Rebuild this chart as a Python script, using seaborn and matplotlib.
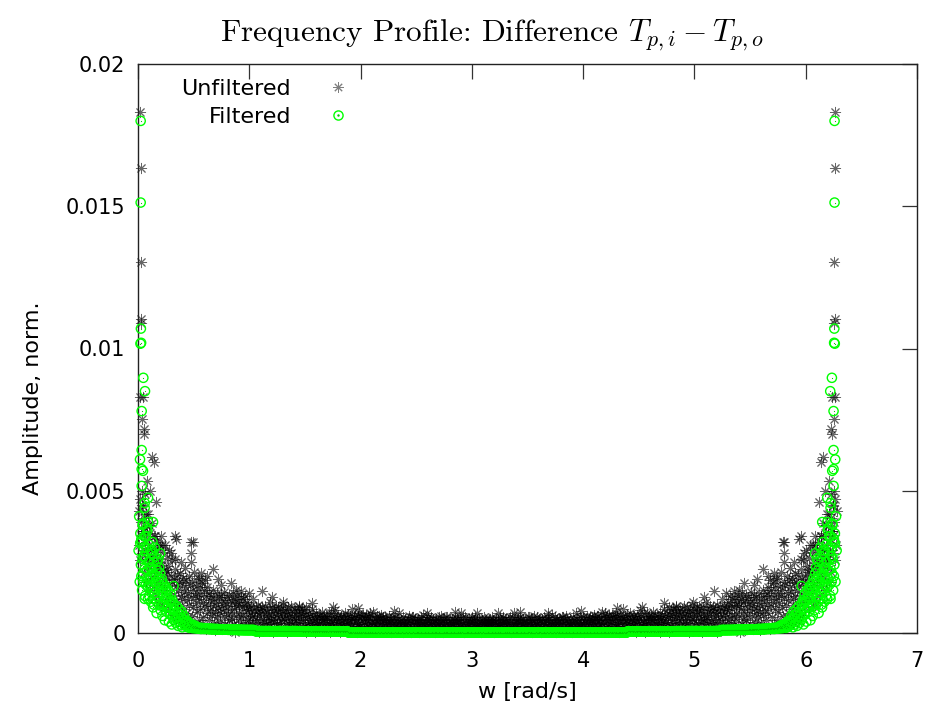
import numpy as np
import pandas as pd
import matplotlib
matplotlib.use("Agg")
import matplotlib.pyplot as plt
import matplotlib.ticker as ticker
from matplotlib.lines import Line2D
import seaborn as sns

# half spectrum sampled on bins w_k = k*pi/N_HALF (k = 1..N_HALF)
# amplitudes in units of 1e-5 (normalised); spectrum is symmetric about pi
N_HALF = 600
AMP_UNIT = 1e-5

unf_bins = [
    430, 310, 470, 255, 390, 345, 280, 445, 360, 215,
    405, 290, 330, 180, 375, 260, 420, 235, 310, 150,
    350, 270, 195, 385, 240, 300, 165, 340, 210, 275,
    130, 320, 245, 185, 295, 110, 260, 225, 340, 170,
    240, 95, 285, 205, 150, 310, 185, 120, 265, 215,
    80, 235, 170, 290, 140, 200, 105, 255, 180, 65,
    190, 135, 225, 75, 165, 110, 205, 50, 150, 180,
    95, 210, 130, 40, 175, 120, 85, 195, 145, 25,
    160, 70, 185, 115, 140, 55, 200, 100, 170, 35,
    125, 180, 60, 150, 90, 215, 130, 20, 165, 105,
    75, 140, 195, 45, 120, 160, 85, 135, 30, 175,
    110, 55, 150, 95, 185, 15, 130, 70, 160, 100,
    140, 45, 115, 80, 20, 130, 65, 150, 95, 35,
    120, 75, 10, 105, 140, 55, 90, 25, 125, 70,
    40, 135, 85, 115, 15, 100, 60, 145, 30, 110,
    80, 20, 125, 65, 95, 135, 45, 10, 115, 75,
    105, 50, 140, 30, 85, 120, 5, 95, 60, 130,
    25, 110, 70, 100, 40, 125, 55, 90, 15, 120,
    65, 100, 35, 130, 80, 20, 110, 45, 95, 60,
    85, 30, 70, 95, 15, 60, 120, 40, 80, 10,
    55, 90, 25, 75, 45, 100, 5, 65, 85, 35,
    70, 20, 90, 50, 10, 80, 40, 95, 30, 60,
    15, 75, 55, 85, 35, 110, 25, 65, 45, 90,
    50, 5, 80, 40, 70, 20, 95, 55, 30, 75,
    90, 35, 60, 15, 85, 45, 70, 10, 100, 50,
    25, 80, 45, 65, 5, 75, 35, 90, 55, 20,
    70, 40, 95, 30, 60, 15, 85, 50, 25, 80,
    45, 65, 10, 75, 35, 90, 55, 20, 70, 40,
    85, 15, 60, 45, 80, 25, 65, 5, 90, 35,
    55, 20, 70, 40, 10, 60, 30, 85, 45, 15,
    65, 35, 50, 5, 70, 25, 55, 40, 15, 60,
    30, 65, 20, 50, 40, 75, 10, 45, 60, 25,
    50, 10, 60, 35, 55, 20, 70, 30, 45, 5,
    40, 70, 25, 45, 15, 60, 35, 80, 20, 50,
    15, 55, 40, 65, 30, 5, 50, 25, 60, 35,
    60, 25, 50, 10, 70, 40, 20, 55, 35, 65,
    35, 45, 15, 60, 25, 50, 85, 30, 10, 55,
    50, 20, 65, 40, 5, 45, 30, 60, 20, 70,
    25, 60, 35, 55, 15, 65, 40, 10, 50, 30,
    65, 10, 45, 30, 60, 20, 55, 35, 70, 15,
    40, 55, 25, 75, 35, 50, 10, 45, 30, 60,
    20, 45, 60, 15, 50, 30, 65, 25, 40, 55,
    45, 15, 35, 55, 25, 50, 10, 40, 30, 60,
    20, 50, 40, 5, 45, 30, 55, 15, 35, 25,
    55, 30, 10, 45, 20, 50, 35, 70, 25, 40,
    15, 45, 35, 55, 5, 40, 25, 50, 30, 10,
    40, 20, 50, 30, 60, 15, 45, 35, 5, 55,
    30, 55, 15, 40, 25, 50, 10, 45, 35, 20,
    50, 5, 45, 25, 55, 35, 20, 40, 65, 30,
    10, 40, 30, 50, 20, 45, 55, 15, 35, 25,
    45, 25, 55, 10, 40, 30, 50, 20, 5, 45,
    35, 50, 20, 45, 30, 55, 15, 40, 25, 60,
    20, 35, 45, 5, 50, 25, 40, 30, 55, 15,
    55, 15, 30, 40, 20, 45, 35, 10, 50, 25,
    30, 45, 10, 55, 35, 20, 50, 40, 15, 45,
    40, 25, 50, 30, 70, 15, 35, 55, 25, 5,
    15, 55, 35, 20, 45, 30, 10, 50, 40, 30,
    50, 20, 40, 55, 10, 35, 45, 25, 55, 20,
    25, 45, 30, 15, 50, 40, 20, 35, 5, 45,
    35, 10, 55, 40, 25, 50, 30, 45, 20, 40,
]

filt_bins = [
    290, 410, 180, 350, 240, 320, 150, 380, 210, 270,
    340, 130, 260, 300, 190, 360, 120, 250, 310, 170,
    230, 110, 280, 160, 200, 90, 250, 140, 300, 120,
    180, 70, 220, 130, 260, 100, 170, 210, 80, 150,
    190, 60, 140, 100, 170, 45, 120, 160, 75, 130,
    90, 150, 40, 110, 65, 135, 85, 30, 115, 55,
    100, 45, 80, 60, 35, 95, 50, 70, 25, 85,
    40, 65, 30, 55, 75, 20, 50, 35, 60, 28,
    45, 30, 38, 22, 42, 26, 35, 18, 32, 24,
    28, 20, 30, 17, 25, 22, 19, 26, 16, 21,
    20, 17, 19, 15, 18, 16, 17, 14, 18, 15,
    16, 17, 14, 16, 15, 17, 14, 15, 16, 14,
    15, 14, 15, 13, 14, 15, 14, 13, 14, 14,
    13, 14, 13, 14, 13, 12, 14, 13, 13, 12,
    13, 12, 13, 13, 12, 13, 12, 12, 13, 12,
    12, 13, 12, 12, 11, 12, 12, 11, 12, 12,
    11, 12, 11, 12, 11, 11, 12, 11, 11, 12,
    11, 11, 10, 11, 11, 10, 11, 11, 10, 11,
    10, 11, 10, 10, 11, 10, 10, 11, 10, 10,
    10, 10, 11, 10, 10, 10, 11, 10, 10, 10,
    7, 6, 7, 6, 6, 7, 6, 6, 7, 6,
    6, 6, 7, 6, 6, 6, 7, 6, 6, 6,
    6, 7, 6, 6, 6, 6, 7, 6, 6, 6,
    6, 6, 6, 7, 6, 6, 6, 6, 7, 6,
    6, 6, 7, 6, 6, 6, 6, 6, 7, 6,
    6, 7, 6, 6, 6, 7, 6, 6, 6, 6,
    6, 6, 6, 7, 6, 6, 6, 7, 6, 6,
    6, 6, 7, 6, 6, 6, 6, 6, 6, 6,
    6, 6, 5, 6, 6, 6, 5, 6, 6, 6,
    6, 5, 6, 6, 6, 6, 5, 6, 6, 5,
    6, 6, 6, 5, 6, 6, 6, 5, 6, 6,
    5, 6, 6, 6, 5, 6, 6, 6, 6, 5,
    6, 6, 5, 6, 6, 5, 6, 6, 6, 6,
    6, 5, 6, 6, 6, 5, 6, 6, 5, 6,
    6, 6, 6, 5, 6, 6, 5, 6, 6, 6,
    5, 6, 6, 6, 6, 5, 6, 6, 6, 5,
    2, 1, 2, 1, 1, 2, 1, 1, 2, 1,
    1, 2, 1, 1, 2, 1, 1, 1, 2, 1,
    1, 1, 2, 1, 1, 2, 1, 1, 1, 2,
    1, 1, 1, 2, 1, 1, 1, 2, 1, 1,
    2, 1, 1, 1, 1, 2, 1, 1, 1, 1,
    1, 2, 1, 1, 1, 1, 2, 1, 1, 1,
    1, 1, 1, 2, 1, 1, 1, 1, 2, 1,
    1, 1, 1, 1, 2, 1, 1, 1, 1, 1,
    2, 1, 1, 1, 1, 1, 2, 1, 1, 1,
    1, 1, 2, 1, 1, 1, 1, 1, 1, 2,
    1, 1, 1, 1, 2, 1, 1, 1, 1, 1,
    1, 2, 1, 1, 1, 1, 1, 2, 1, 1,
    2, 1, 1, 1, 1, 2, 1, 1, 1, 1,
    1, 1, 2, 1, 1, 1, 1, 2, 1, 1,
    1, 1, 1, 2, 1, 1, 1, 1, 1, 2,
    1, 2, 1, 1, 1, 1, 2, 1, 1, 1,
    1, 1, 1, 1, 2, 1, 1, 1, 2, 1,
    2, 1, 1, 1, 1, 1, 1, 2, 1, 1,
    1, 1, 2, 1, 1, 1, 1, 1, 2, 1,
    1, 2, 1, 1, 1, 2, 1, 1, 1, 1,
    1, 1, 1, 2, 1, 1, 2, 1, 1, 1,
    2, 1, 1, 1, 1, 1, 1, 1, 2, 1,
    1, 1, 2, 1, 1, 1, 2, 1, 1, 1,
    1, 2, 1, 1, 1, 1, 1, 1, 1, 2,
]

# low-frequency peaks and stray points (w [rad/s], amplitude 1e-5)
unf_extra = [
    (0.022, 1830), (0.024, 1635), (0.025, 1304), (0.024, 1104), (0.027, 1090),
    (0.018, 830), (0.045, 830), (0.033, 752), (0.057, 717), (0.050, 700),
    (0.125, 620), (0.145, 600), (0.078, 534), (0.060, 490), (0.032, 500),
    (0.040, 450), (0.070, 420), (0.100, 380), (0.050, 360), (0.150, 340),
    (0.160, 460), (0.110, 500), (0.200, 310), (0.120, 290), (0.090, 260),
    (0.180, 240), (0.250, 220), (0.330, 340), (0.480, 320), (0.480, 280),
    (0.480, 250), (0.670, 225), (0.330, 260), (0.215, 310), (0.390, 250),
    (0.570, 210), (0.840, 176), (0.930, 148), (1.110, 148), (1.300, 110),
    (1.560, 105), (1.450, 95), (1.750, 90), (1.980, 88), (2.300, 78),
    (2.600, 72), (2.850, 75), (3.050, 70), (0.300, 280), (0.420, 230),
    (0.550, 190), (0.620, 200), (0.750, 170), (0.720, 190), (0.880, 150),
    (1.000, 140), (1.200, 125), (0.340, 330), (0.490, 320),
]

filt_extra = [
    (0.024, 1800), (0.024, 1513), (0.026, 1070), (0.022, 1017), (0.028, 1020),
    (0.048, 897), (0.063, 850), (0.033, 780), (0.033, 643), (0.018, 610),
    (0.033, 576), (0.045, 570), (0.033, 517), (0.090, 475), (0.060, 457),
    (0.060, 440), (0.045, 385), (0.080, 370), (0.090, 390), (0.135, 390),
    (0.020, 316), (0.126, 290), (0.200, 280), (0.060, 225), (0.030, 330),
    (0.050, 300), (0.070, 340), (0.110, 290), (0.130, 320), (0.150, 270),
    (0.170, 250), (0.190, 230), (0.040, 260), (0.080, 220), (0.100, 250),
    (0.120, 230), (0.140, 210), (0.160, 200), (0.180, 190), (0.210, 180),
    (0.230, 160), (0.250, 150), (0.030, 200), (0.050, 180), (0.070, 170),
    (0.090, 160), (0.110, 190), (0.130, 150), (0.150, 140), (0.220, 100),
    (0.270, 120), (0.300, 110), (0.320, 165), (0.060, 120), (0.100, 130),
    (0.140, 100), (0.170, 110), (0.260, 90), (0.330, 80), (0.360, 70),
]


def full_spectrum(bins, extra, name):
    w_bins = np.arange(1, len(bins) + 1) * np.pi / N_HALF
    w_ex = np.array([p[0] for p in extra])
    a_ex = np.array([p[1] for p in extra])
    w = np.concatenate([w_bins, w_ex])
    a = np.concatenate([np.array(bins), a_ex]) * AMP_UNIT
    # mirror image above pi (real signal -> symmetric magnitude)
    w = np.concatenate([w, 2 * np.pi - w])
    a = np.concatenate([a, a])
    return pd.DataFrame({"w": w, "amp": a, "series": name})


df_unf = full_spectrum(unf_bins, unf_extra, "Unfiltered")
df_filt = full_spectrum(filt_bins, filt_extra, "Filtered")

sns.set_style("white")
plt.rcParams["font.family"] = ["DejaVu Sans"]
plt.rcParams["mathtext.fontset"] = "cm"
for key in ("text.color", "axes.labelcolor", "xtick.color", "ytick.color"):
    plt.rcParams[key] = "black"
FS = 15
FS_LAB = 16

fig = plt.figure(figsize=(9.26, 7.11), dpi=100)
ax = fig.add_axes([138 / 926, 1 - 633 / 711, 779 / 926, 569 / 711])

ast = (8, 2, 0)
sns.scatterplot(data=df_unf, x="w", y="amp", marker=ast, s=55, color="black",
                linewidth=0.7, alpha=0.6, legend=False, ax=ax, clip_on=False, zorder=2)
sns.scatterplot(data=df_filt, x="w", y="amp", marker="o", s=44, facecolors="none",
                edgecolor="#00ff00", linewidth=1.0, legend=False, ax=ax, clip_on=False, zorder=3)
sns.scatterplot(data=df_filt, x="w", y="amp", marker=".", s=3, color="#00cc00",
                linewidth=0, legend=False, ax=ax, clip_on=False, zorder=4)

ax.set_xlim(0, 7)
ax.set_ylim(0, 0.02)
ax.set_xticks(range(0, 8))
ax.set_yticks([0, 0.005, 0.01, 0.015, 0.02])
ax.yaxis.set_major_formatter(ticker.FuncFormatter(lambda v, pos: f"{v:g}"))
ax.tick_params(direction="in", length=10.5, width=0.9, color="#333333",
               labelcolor="black", top=True, right=True, labelsize=FS, pad=9)
ax.tick_params(axis="x", pad=13)
for sp in ax.spines.values():
    sp.set_color("#222222")
    sp.set_linewidth(1.0)

ax.set_xlabel("w [rad/s]", fontsize=FS_LAB, color="black")
ax.set_ylabel("Amplitude, norm.", fontsize=FS_LAB, color="black")
ax.xaxis.set_label_coords(0.5, -0.086)
ax.yaxis.set_label_coords(-0.122, 0.413)

fig.text(492 / 926, 1 - 35 / 711,
         r"Frequency Profile: Difference $T_{p,i} - T_{p,o}$",
         family="cmr10", ha="center", va="center", fontsize=22.5, color="black")

h_unf = Line2D([], [], linestyle="none", marker=ast, markersize=7.4, color="black",
               markeredgewidth=0.7, alpha=0.5)
h_circ = Line2D([], [], linestyle="none", marker="o", markersize=6.6, markerfacecolor="none",
                markeredgecolor="#00ff00", markeredgewidth=1.0)
h_dot = Line2D([], [], linestyle="none", marker=".", markersize=1.5, color="#00cc00")
leg = ax.legend([h_unf, (h_circ, h_dot)], ["Unfiltered", "Filtered"], loc="upper left",
                bbox_to_anchor=(0.056, 0.974), frameon=False, markerfirst=False,
                fontsize=FS_LAB, handlelength=2.0, handletextpad=1.1, labelspacing=0.38,
                borderpad=0, borderaxespad=0)
for t in leg.get_texts():
    t.set_color("black")

fig.savefig("out.png", dpi=100)
